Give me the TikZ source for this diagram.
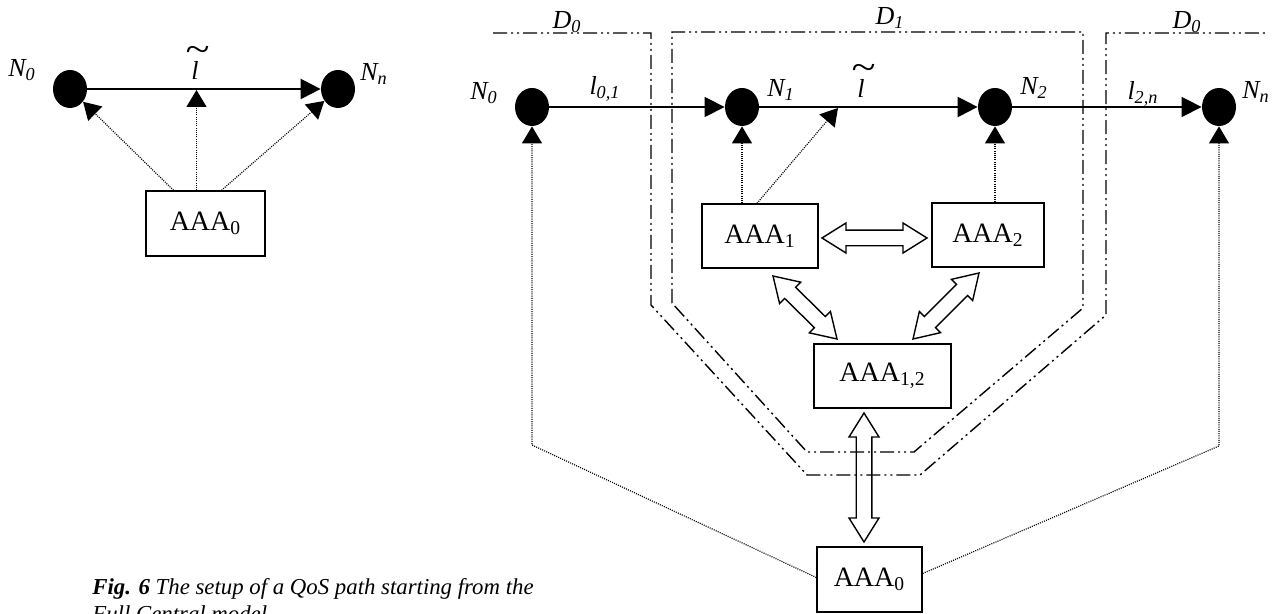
\documentclass[tikz,border=0pt]{standalone}
\usepackage{fontspec}
\usepackage{graphicx}
\setmainfont{Liberation Serif}
\usetikzlibrary{arrows.meta,calc,shapes.geometric}
\newcommand\hollowarrow[2]{%
  \coordinate (hP) at ($(#1)!12pt!(#2)$);
  \coordinate (hQ) at ($(#2)!12pt!(#1)$);
  \draw[hollowarr] (#1)
    -- ($(hP)!7.5pt!90:(#2)$) -- ($(hP)!3.9pt!90:(#2)$)
    -- ($(hQ)!3.9pt!-90:(#1)$) -- ($(hQ)!7.5pt!-90:(#1)$)
    -- (#2)
    -- ($(hQ)!7.5pt!90:(#1)$) -- ($(hQ)!3.9pt!90:(#1)$)
    -- ($(hP)!3.9pt!-90:(#2)$) -- ($(hP)!7.5pt!-90:(#2)$)
    -- cycle;}
\newcommand\tl{\rlap{\hspace{0.22em}\makebox[0pt]{\raisebox{0.72em}{\scalebox{1.7}[1.4]{\textasciitilde}}}}l}
\begin{document}
\begin{tikzpicture}[x=0.5pt,y=-0.5pt,
  netnode/.style={ellipse, fill=black, minimum width=17pt, minimum height=19pt, inner sep=0pt},
  aaabox/.style={draw, line width=0.7pt, inner sep=0pt, minimum height=32pt, font=\fontsize{14}{16}\selectfont},
  lbl/.style={inner sep=0pt, font=\fontsize{13}{15}\selectfont\itshape},
  thickarrow/.style={line width=1.2pt, -{Triangle[length=10pt,width=10pt]}},
  thinarrow/.style={line width=0.65pt, -{Triangle[length=10pt,width=10pt]}},
  dotarrow/.style={line width=0.6pt, dash pattern=on 0.5pt off 0.6pt, -{Triangle[length=8.5pt,width=10pt]}},
  hollowarr/.style={draw, fill=white, line width=0.7pt, line join=miter},
  domline/.style={line width=0.7pt, dash pattern=on 7pt off 2pt on 1pt off 2pt on 1pt off 2pt}]
\useasboundingbox (0,0) rectangle (1280,614);

% ---------------- left diagram ----------------
\node[netnode] (L0) at (70,89) {};
\node[netnode] (Ln) at (338,89) {};
\node[lbl] (L0l) at (22,70) {N\textsubscript{0}};
\node[lbl] (Lnl) at (374,74) {N\textsubscript{n}};
\node[lbl, anchor=base] (Ltl) at (195,80) {\tl};
\node[aaabox, minimum width=59.5pt, minimum height=32.5pt] (B0) at (205.5,223.5) {AAA\textsubscript{0}};
\draw[thickarrow] (L0) -- (Ln);
\coordinate (b0a) at ($(B0.north)+(-32,0)$);
\coordinate (b0b) at ($(B0.north)+(-9,0)$);
\coordinate (b0c) at ($(B0.north)+(16,0)$);
\coordinate (ltip) at (196.5,90);
\draw[dotarrow] (b0a) -- (L0);
\draw[dotarrow] (b0b) -- (b0b |- ltip);
\draw[dotarrow] (b0c) -- (Ln);

% ---------------- right diagram ----------------
\node[netnode] (R0) at (532,107) {};
\node[netnode] (R1) at (742,107) {};
\node[netnode] (R2) at (995,107) {};
\node[netnode] (Rn) at (1219,107) {};
\node[lbl] (R0l) at (484,93) {N\textsubscript{0}};
\node[lbl] (R1l) at (781,90) {N\textsubscript{1}};
\node[lbl] (R2l) at (1034,88) {N\textsubscript{2}};
\node[lbl] (Rnl) at (1256,92) {N\textsubscript{n}};
\node[lbl] (l01) at (605,89) {l\textsubscript{0,1}};
\node[lbl, anchor=base] (Rtl) at (861,98) {\tl};
\node[lbl] (l2n) at (1143,94) {l\textsubscript{2,n}};
\node[lbl] (D0a) at (567,22) {D\textsubscript{0}};
\node[lbl] (D1) at (890,18) {D\textsubscript{1}};
\node[lbl] (D0b) at (1187,22) {D\textsubscript{0}};

\draw[thinarrow] (R0) -- (R1);
\draw[thickarrow] (R1) -- (R2);
\draw[thinarrow] (R2) -- (Rn);

\node[aaabox, minimum width=58pt] (A1) at (760,236) {AAA\textsubscript{1}};
\node[aaabox, minimum width=56pt] (A2) at (988,235) {AAA\textsubscript{2}};
\node[aaabox, minimum width=68.5pt] (A12) at (882.5,376) {AAA\textsubscript{1,2}};
\node[aaabox, minimum width=52.5pt, minimum height=32.5pt] (A0) at (869.5,579.5) {AAA\textsubscript{0}};

% dotted control arrows
\coordinate (a1a) at (A1.north -| R1);
\coordinate (a1b) at ($(A1.north)+(-3,0)$);
\coordinate (rtip) at (838,108);
\coordinate (a2a) at (A2.north -| R2);
\draw[dotarrow] (a1a) -- (R1);
\draw[dotarrow] (a1b) -- (rtip);
\draw[dotarrow] (a2a) -- (R2);
\coordinate (bendL) at (532,445);
\coordinate (bendR) at (1219,446);
\coordinate (a0l) at ($(A0.west)+(0,-2)$);
\coordinate (a0r) at ($(A0.east)+(0,-6)$);
\draw[dotarrow] (a0l) -- (bendL) -- (R0);
\draw[dotarrow] (a0r) -- (bendR) -- (Rn);

% hollow double arrows
\coordinate (h1a) at (822,238);
\coordinate (h1b) at (927,238);
\coordinate (h2a) at (773,276);
\coordinate (h2b) at (837,339);
\coordinate (h3a) at (979,273);
\coordinate (h3b) at (913,339);
\coordinate (h4a) at (864,413);
\coordinate (h4b) at (864,542);
\hollowarrow{h1a}{h1b}
\hollowarrow{h2a}{h2b}
\hollowarrow{h3a}{h3b}
\hollowarrow{h4a}{h4b}

% domain boundaries
\draw[domline] (493,33) -- (651,33) -- (651,305) -- (807,475) -- (920,475) -- (1106,315) -- (1106,33) -- (1267,33);
\draw[domline] (672,303) -- (672,32) -- (1083,32) -- (1083,308) -- (914,452) -- (807,452) -- cycle;

% caption
\begin{scope}
\clip (0,0) rectangle (1280,614);
\node[anchor=base west, inner sep=0pt, font=\fontsize{11.4}{13}\selectfont\itshape] (cap1) at (92,594) {\textbf{Fig. 6} The setup of a QoS path starting from the};
\node[anchor=base west, inner sep=0pt, font=\fontsize{11.4}{13}\selectfont\itshape] (cap2) at (92,621) {Full Central model.};
\end{scope}
\end{tikzpicture}
\end{document}
